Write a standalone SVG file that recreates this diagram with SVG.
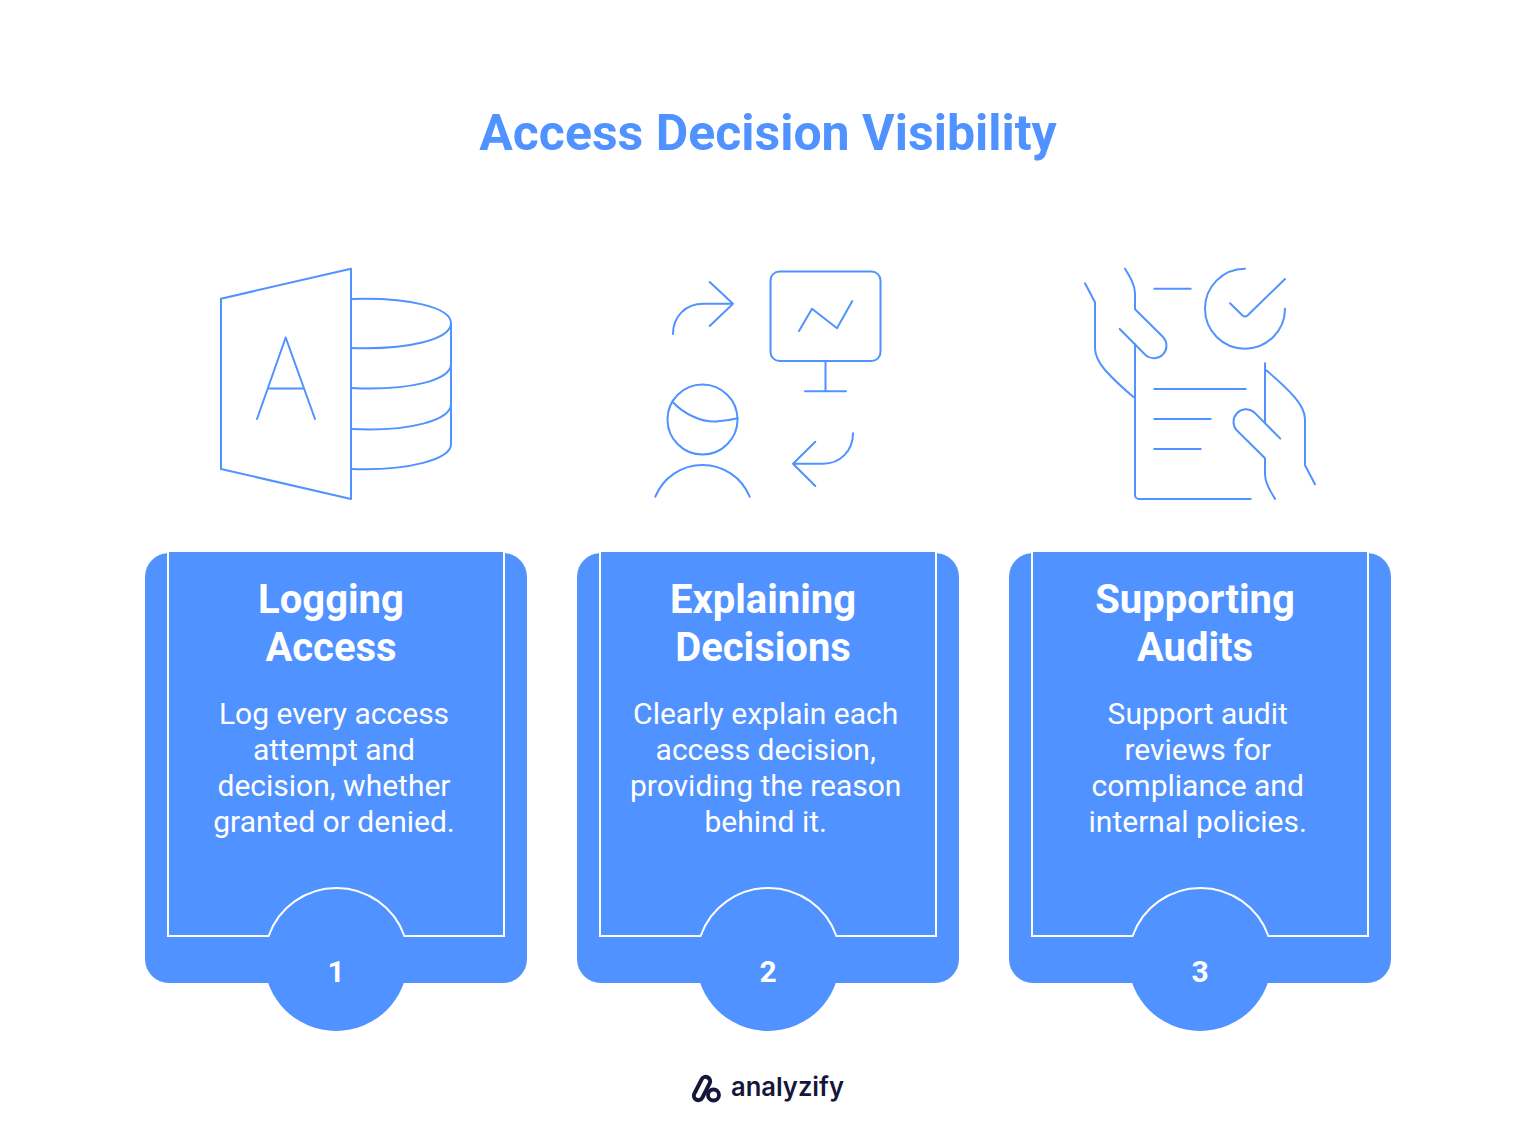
<svg xmlns="http://www.w3.org/2000/svg" width="1536" height="1139" viewBox="0 0 1536 1139">
<style>
.bg{fill:#5092ff}
.in{fill:none;stroke:#fff;stroke-width:2}
.ic{fill:none;stroke:#5092ff;stroke-width:2;stroke-linecap:round;stroke-linejoin:round}
text{font-family:Roboto,"Liberation Sans",sans-serif;text-anchor:middle}
.t{font-size:50px;font-weight:700;fill:#5092ff}
.h{font-size:40px;font-weight:700;fill:#fff}
.b{font-size:30px;font-weight:400;fill:#fff}
.n{font-size:30px;font-weight:700;fill:#fff}
</style>
<defs>
<g id="card">
<rect class="bg" x="0" y="1" width="382" height="430" rx="24"/>
<rect class="bg" x="23" y="0" width="336" height="20"/>
<circle class="bg" cx="191" cy="407" r="72"/>
<path class="in" d="M23 0V384H123.600A72 72 0 0 1 259.400 384H359V0"/>
</g>
</defs>
<rect width="1536" height="1139" fill="#fff"/>
<text id="title" class="t" x="768" y="149.500">Access Decision Visibility</text>
<g id="icon-1" class="ic">
<path d="M221 298.700L351 268.700V499L221 469Z"/>
<path d="M351 299C410 297 451 308 451 323C451 339 410 350 351 348M451 323V444C451 459 410 471 351 469M451 364C451 380 410 391 351 388M451 404C451 420 410 432 351 429"/>
<path d="M257 419L285.700 337.500L315 419M267.700 388.500H304"/>
</g>
<g id="icon-2" class="ic">
<path d="M673 334C673 316 686 303.700 703.300 303.700H733M709.700 282L733 303.700L709.700 326"/>
<rect x="770.500" y="271.500" width="110" height="89.500" rx="9"/>
<path d="M825.500 361V391.300M805 391.300H846M799 331L812 308.700L837 328.300L852.300 301"/>
<circle cx="702.500" cy="419.500" r="35"/>
<path d="M672.300 401.700C684 414 702 423 718 421.300C725 421 731 420 737.700 418.300M655.300 496.700A51 51 0 0 1 749.700 496.700"/>
<path d="M853 433.300C853 451 840 463.700 823.300 463.700H793M815.300 441.700L793 463.700L815.300 486"/>
</g>
<g id="icon-3" class="ic">
<path d="M1085 283.300L1095 302.300V348.300C1095 356 1100 364 1105 370C1113 379 1125 390 1135 398.300"/>
<path d="M1125 268.700C1130 277 1135 285 1135 293.300V309.300L1163.300 337.300A12.600 12.600 0 0 1 1146 355.500L1119.700 329"/>
<path d="M1135 344.300V495A4 4 0 0 0 1139 499H1250.700"/>
<path d="M1154.300 288.700H1190.700M1154.300 389H1245.700M1154.300 419H1210.700M1154.300 449H1200.700"/>
<path d="M1245 268.700A40 40 0 1 0 1285 308.700"/>
<path d="M1230 303.300L1242.500 315.500Q1245 317.500 1247.500 315.500L1285 279"/>
<path d="M1315 484.300L1305 465.300V419.300C1305 411.600 1300 403.600 1295 397.600C1287 388.600 1275 377.600 1265 369.300"/>
<path d="M1275 498.900C1270 490.600 1265 482.600 1265 474.300V458.300L1236.700 430.300A12.600 12.600 0 0 1 1254 412.100L1280.300 438.600"/>
<path d="M1265 363.300V423.300"/>
</g>
<g id="card-1">
<use href="#card" x="145" y="552"/>
<text class="h" x="331" y="613">Logging</text>
<text class="h" x="331" y="661">Access</text>
<text class="b" x="334" y="724">Log every access</text>
<text class="b" x="334" y="760">attempt and</text>
<text class="b" x="334" y="796">decision, whether</text>
<text class="b" x="334" y="832">granted or denied.</text>
<text class="n" x="336" y="981.500">1</text>
</g>
<g id="card-2">
<use href="#card" x="577" y="552"/>
<text class="h" x="763" y="613">Explaining</text>
<text class="h" x="763" y="661">Decisions</text>
<text class="b" x="765.700" y="724">Clearly explain each</text>
<text class="b" x="765.700" y="760">access decision,</text>
<text class="b" x="765.700" y="796">providing the reason</text>
<text class="b" x="765.700" y="832">behind it.</text>
<text class="n" x="768" y="981.500">2</text>
</g>
<g id="card-3">
<use href="#card" x="1009" y="552"/>
<text class="h" x="1195" y="613">Supporting</text>
<text class="h" x="1195" y="661">Audits</text>
<text class="b" x="1197.700" y="724">Support audit</text>
<text class="b" x="1197.700" y="760">reviews for</text>
<text class="b" x="1197.700" y="796">compliance and</text>
<text class="b" x="1197.700" y="832">internal policies.</text>
<text class="n" x="1200" y="981.500">3</text>
</g>
<g id="logo">
<rect x="697.500" y="1076" width="9" height="25" rx="4.500" transform="rotate(27 702 1088.500)" fill="none" stroke="#15173a" stroke-width="4"/>
<circle cx="713.500" cy="1095" r="5.500" fill="#fff" stroke="#15173a" stroke-width="3.800"/>
<text x="787.500" y="1096" style="font-family:Inter,sans-serif;font-size:26px;font-weight:600;fill:#15173a" textLength="113" lengthAdjust="spacingAndGlyphs">analyzify</text>
</g>
</svg>
